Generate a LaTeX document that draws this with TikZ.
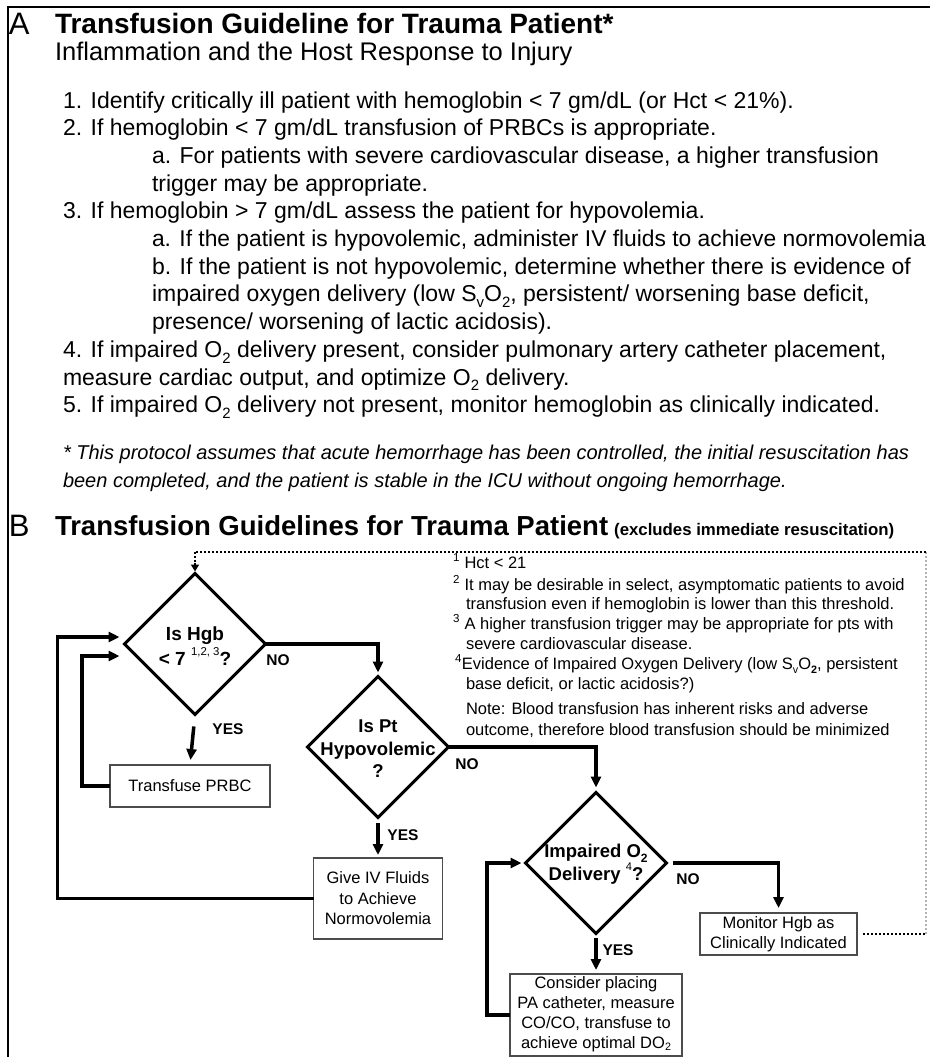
\documentclass[tikz,border=0pt]{standalone}
\usepackage{fontspec}
\usepackage{graphicx}
\setmainfont{Liberation Sans}
\usetikzlibrary{arrows.meta,shapes.geometric,calc}
\newcommand\lowsub[1]{\raisebox{-0.25em}{\scalebox{0.65}{#1}}}
\newcommand\hisup[1]{\raisebox{0.5em}{\scalebox{0.6}{\mdseries #1}}}
\tikzset{
  plain/.style={inner sep=0pt, outer sep=0pt},
  txtA/.style={plain, anchor=base west, font=\fontsize{23}{27.7}\selectfont},
  itA/.style={plain, anchor=base west, font=\fontsize{20}{24}\selectfont\itshape},
  bigletter/.style={plain, anchor=base west, font=\fontsize{31}{34}\selectfont},
  ttl/.style={plain, anchor=base west, font=\fontsize{28}{32}\selectfont\bfseries},
  fn/.style={plain, anchor=base west, font=\fontsize{16.5}{20}\selectfont},
  dia/.style={draw, line width=3pt, shape=diamond, minimum width=141pt, minimum height=141pt, inner sep=0pt, outer sep=0pt},
  diatext/.style={plain, align=center, font=\fontsize{18.5}{22.5}\selectfont\bfseries},
  box/.style={draw=black!70, line width=1.6pt, inner sep=0pt, outer sep=0pt, align=center, font=\fontsize{16.5}{20.5}\selectfont},
  conn/.style={line width=3.5pt, -{Triangle[length=11pt,width=10pt]}},
  lbl/.style={plain, font=\fontsize{15.5}{18}\selectfont\bfseries},
  dotline/.style={line width=2.5pt, dash pattern=on 1.6pt off 2.4pt},
}
\begin{document}
\begin{tikzpicture}[x=1pt,y=-1pt]
\useasboundingbox (0,0) rectangle (930,1057);
% frame
\draw[line width=2.2pt] (8,1057) -- (8,7) -- (930,7);

% ---------- Part A ----------
\node[bigletter] (la) at (9,35) {A};
\node[ttl] (ta) at (55,34) {Transfusion Guideline for Trauma Patient*};
\node[plain, anchor=base west, font=\fontsize{25.5}{30}\selectfont] (sa) at (55,61) {Inflammation and the Host Response to Injury};

\node[txtA] (a1) at (63,108) {1. Identify critically ill patient with hemoglobin < 7 gm/dL (or Hct < 21\%).};
\node[txtA] (a2) at (63,135.7) {2. If hemoglobin < 7 gm/dL transfusion of PRBCs is appropriate.};
\node[txtA] (a3) at (152,163.4) {a. For patients with severe cardiovascular disease, a higher transfusion};
\node[txtA] (a4) at (152,191.1) {trigger may be appropriate.};
\node[txtA] (a5) at (63,218.8) {3. If hemoglobin > 7 gm/dL assess the patient for hypovolemia.};
\node[txtA, font=\fontsize{22.8}{27.7}\selectfont] (a6) at (152,246.5) {a. If the patient is hypovolemic, administer IV fluids to achieve normovolemia};
\node[txtA] (a7) at (152,274.2) {b. If the patient is not hypovolemic, determine whether there is evidence of};
\node[txtA] (a8) at (152,301.9) {impaired oxygen delivery (low S\lowsub{v}O\lowsub{2}, persistent/ worsening base deficit,};
\node[txtA] (a9) at (152,329.6) {presence/ worsening of lactic acidosis).};
\node[txtA] (a10) at (63,357.3) {4. If impaired O\lowsub{2} delivery present, consider pulmonary artery catheter placement,};
\node[txtA] (a11) at (63,385) {measure cardiac output, and optimize O\lowsub{2} delivery.};
\node[txtA] (a12) at (63,412.7) {5. If impaired O\lowsub{2} delivery not present, monitor hemoglobin as clinically indicated.};

\node[itA] (i1) at (63,459) {* This protocol assumes that acute hemorrhage has been controlled, the initial resuscitation has};
\node[itA] (i2) at (63,487) {been completed, and the patient is stable in the ICU without ongoing hemorrhage.};

% ---------- Part B ----------
\node[bigletter] (lb) at (9,536) {B};
\node[plain, anchor=base west] (tb) at (55,535) {{\fontsize{27.5}{32}\selectfont\bfseries Transfusion Guidelines for Trauma Patient}\hspace{6pt}{\fontsize{16.8}{20}\selectfont\bfseries (excludes immediate resuscitation)}};

% footnotes
\node[fn] (f1) at (453,568) {\textsuperscript{1} Hct < 21};
\node[fn] (f2) at (453,590) {\textsuperscript{2} It may be desirable in select, asymptomatic patients to avoid};
\node[fn] (f3) at (466,609) {transfusion even if hemoglobin is lower than this threshold.};
\node[fn] (f4) at (453,629) {\textsuperscript{3} A higher transfusion trigger may be appropriate for pts with};
\node[fn] (f5) at (466,649) {severe cardiovascular disease.};
\node[fn] (f6) at (455,669) {\textsuperscript{4}Evidence of Impaired Oxygen Delivery (low S\lowsub{v}O\lowsub{\textbf{2}}, persistent};
\node[fn] (f7) at (466,689) {base deficit, or lactic acidosis?)};
\node[fn] (f8) at (466,714) {Note: Blood transfusion has inherent risks and adverse};
\node[fn] (f9) at (466,735) {outcome, therefore blood transfusion should be minimized};

% diamonds
\node[dia] (d1) at (195,644) {};
\node[diatext, font=\fontsize{19}{25}\selectfont\bfseries] (d1t) at (195,646) {Is Hgb\\< 7 \hisup{1,2, 3}?};
\node[dia] (d2) at (378,747) {};
\node[diatext] (d2t) at (378,749) {Is Pt\\Hypovolemic\\?};
\node[dia] (d3) at (596,863) {};
\node[diatext] (d3t) at (596,864) {Impaired O\lowsub{2}\\Delivery \hisup{4}?};

% boxes
\node[box, minimum width=160pt, minimum height=42pt] (prbc) at (190,786) {Transfuse PRBC};
\node[box, minimum width=129pt, minimum height=81pt] (ivf) at (378,898.5) {Give IV Fluids\\to Achieve\\Normovolemia};
\node[box, minimum width=157pt, minimum height=42pt] (mon) at (778.5,934) {Monitor Hgb as\\Clinically Indicated};
\node[box, minimum width=172pt, minimum height=82pt] (pac) at (596,1015) {};
\node[plain, align=center, font=\fontsize{16.5}{20}\selectfont] (pact) at (596,1014) {Consider placing\\PA catheter, measure\\CO/CO, transfuse to\\achieve optimal DO\raisebox{-0.15em}{\scalebox{0.65}{2}}};

% entry points
\coordinate (in1) at ($(d1.west)+(-5,-7)$);
\coordinate (in2) at ($(d1.west)+(-5,12)$);
\coordinate (in3) at ($(d3.west)+(-4,0)$);
\coordinate (topL) at (195,552);
\coordinate (topR) at (926,552);
\coordinate (botR) at (926,934);

% connectors
\draw[conn, shorten >=4pt] (d1.east) -| (d2.north);
\draw[conn, shorten >=5pt] (d2.east) -| (d3.north);
\draw[conn, shorten <=6pt, shorten >=5pt] (d3.east) -| (mon.north);
\draw[conn, shorten <=12pt, shorten >=5pt] (d1.south) -- (prbc.north);
\draw[conn, shorten <=5pt, shorten >=3pt] (d2.south) -- (ivf.north);
\draw[conn, shorten <=4pt, shorten >=4pt] (d3.south) -- (pac.north);
\draw[conn] (prbc.west) -- ++(-28,0) |- (in2);
\draw[conn] (ivf.west) -- ++(-256,0) |- (in1);
\draw[conn] (pac.west) -- ++(-23,0) |- (in3);

% dotted feedback
\draw[dotline, shorten <=6pt] (mon.east) -- (botR);
\draw[dotline, draw=black!30] (botR) -- (topR);
\draw[dotline] (topR) -- (topL);
\draw[line width=2.5pt, dash pattern=on 1.6pt off 2.4pt] (topL) -- ($(d1.north)+(0,-10)$);
\draw[line width=2pt, -{Triangle[length=7pt,width=8pt]}] ($(d1.north)+(0,-11)$) -- ($(d1.north)+(0,-2)$);

% labels
\node[lbl] (no1) at (278,660) {NO};
\node[lbl] (no2) at (467,764) {NO};
\node[lbl] (no3) at (688,879) {NO};
\node[lbl] (yes1) at (228,729) {YES};
\node[lbl] (yes2) at (403,835) {YES};
\node[lbl] (yes3) at (618,950) {YES};
\end{tikzpicture}
\end{document}
